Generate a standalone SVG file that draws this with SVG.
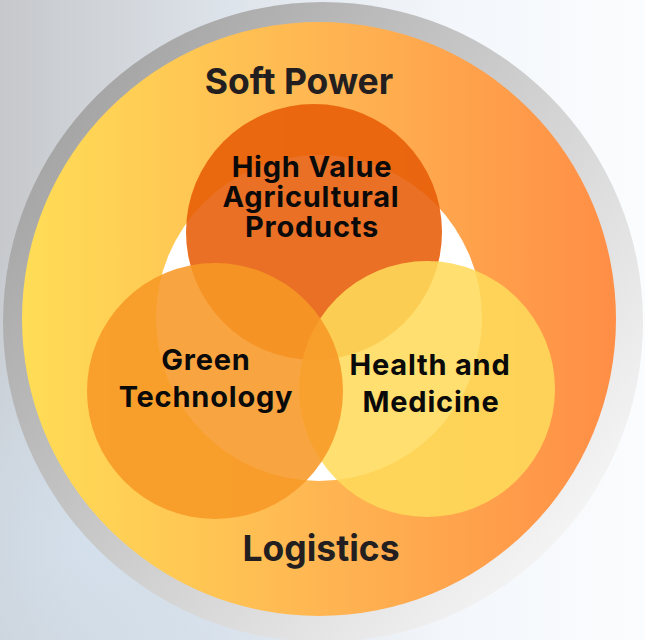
<svg xmlns="http://www.w3.org/2000/svg" width="645" height="640" viewBox="0 0 645 640">
<defs>
<linearGradient id="bg" x1="0" y1="0" x2="1" y2="0">
<stop offset="0" stop-color="#C6C8CB"/>
<stop offset="0.35" stop-color="#DDE3EA"/>
<stop offset="0.7" stop-color="#F3F7FB"/>
<stop offset="1" stop-color="#FBFCFE"/>
</linearGradient>
<radialGradient id="bgblue" cx="0.15" cy="0.85" r="0.5">
<stop offset="0" stop-color="#D4E1EE" stop-opacity="0.9"/>
<stop offset="1" stop-color="#D4E1EE" stop-opacity="0"/>
</radialGradient>
<linearGradient id="ring" x1="0.1" y1="0.2" x2="0.9" y2="0.85">
<stop offset="0" stop-color="#A6A6A6"/>
<stop offset="0.5" stop-color="#CFCFCF"/>
<stop offset="1" stop-color="#F6F6F6"/>
</linearGradient>
<linearGradient id="disc" x1="0" y1="0" x2="1" y2="0">
<stop offset="0" stop-color="#FFDD56"/>
<stop offset="0.5" stop-color="#FFB652"/>
<stop offset="1" stop-color="#FF8E46"/>
</linearGradient>
<style>
.lbl{font-family:Inter,"Liberation Sans",Arial,sans-serif;font-weight:700;text-anchor:middle;fill:#0A0A0A}
.big{font-size:35.5px;fill:#231F20}
.small{font-size:29px;letter-spacing:0.8px}
</style>
</defs>
<rect width="645" height="640" fill="url(#bg)"/>
<rect width="645" height="640" fill="url(#bgblue)"/>
<g id="outer">
<circle cx="323" cy="322" r="320" fill="url(#ring)"/>
<circle cx="319" cy="319" r="297" fill="url(#disc)"/>
<circle cx="319" cy="318" r="163" fill="#FFFFFF"/>
<text class="lbl big" x="299" y="94">Soft Power</text>
<text class="lbl big" x="321" y="561">Logistics</text>
</g>
<g id="connectors"></g>
<g id="agri">
<circle cx="314" cy="232" r="128" fill="#E75B06" fill-opacity="0.875"/>
<text class="lbl small"><tspan x="312" y="177">High Value</tspan><tspan x="311" y="207">Agricultural</tspan><tspan x="312" y="237">Products</tspan></text>
</g>
<g id="health">
<circle cx="427" cy="389" r="128" fill="#FEDA5A" fill-opacity="0.875"/>
</g>
<g id="green">
<circle cx="215" cy="391" r="128" fill="#F79826" fill-opacity="0.875"/>
<text class="lbl small"><tspan x="206" y="370">Green</tspan><tspan x="206" y="407">Technology</tspan></text>
</g>
<g id="health-label">
<text class="lbl small"><tspan x="430" y="375">Health and</tspan><tspan x="431" y="412">Medicine</tspan></text>
</g>
</svg>
